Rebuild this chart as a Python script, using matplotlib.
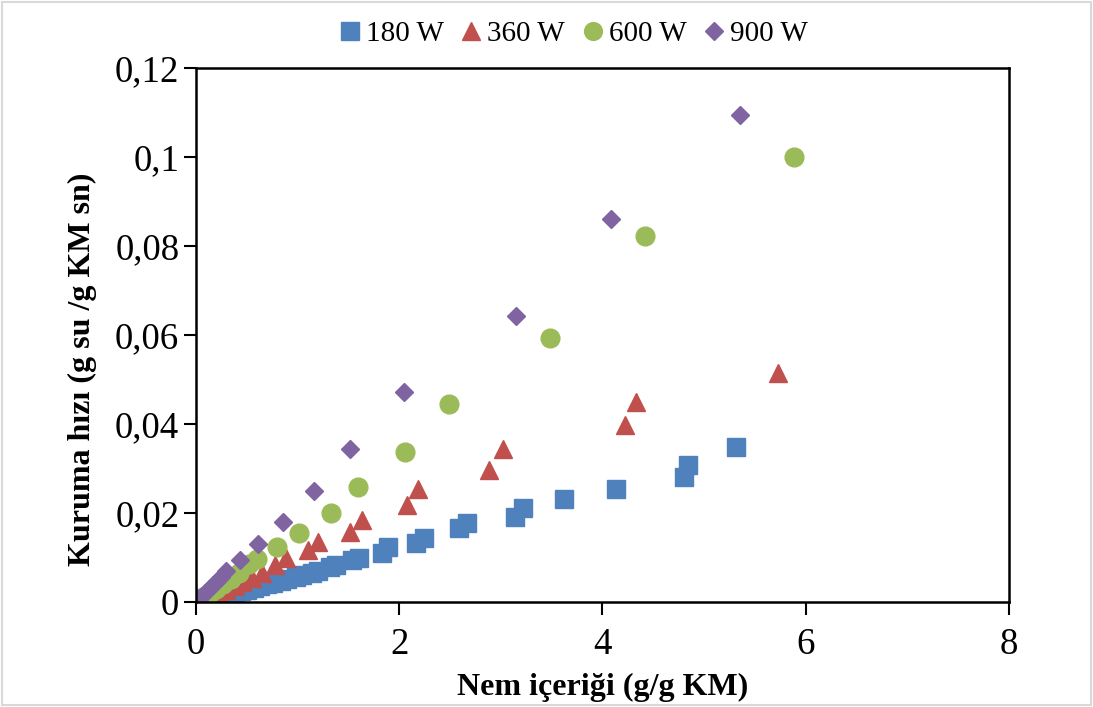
import matplotlib.pyplot as plt
from matplotlib.patches import Rectangle
from matplotlib.ticker import FuncFormatter

# Nem içeriği (g/g KM) vs kuruma hızı (g su / g KM sn)
x_180 = [5.31, 4.84, 4.80, 4.13, 3.62, 3.22, 3.14, 2.67, 2.59, 2.24, 2.17, 1.89, 1.83,
         1.60, 1.54, 1.38, 1.32, 1.20, 1.14, 1.04, 0.98, 0.90, 0.84, 0.76, 0.70, 0.63,
         0.57, 0.50, 0.44, 0.38, 0.32, 0.26, 0.20, 0.14, 0.08, 0.03, 0.00]
y_180 = [0.0348, 0.0308, 0.0281, 0.0253, 0.0231, 0.0211, 0.0191, 0.0177, 0.0167, 0.0144,
         0.0132, 0.0123, 0.0110, 0.0100, 0.0094, 0.0083, 0.0078, 0.0070, 0.0066, 0.0060,
         0.0056, 0.0051, 0.0047, 0.0043, 0.0040, 0.0036, 0.0032, 0.0028, 0.0025, 0.0021,
         0.0018, 0.0014, 0.0011, 0.0008, 0.0005, 0.0002, 0.0010]

x_360 = [5.73, 4.33, 4.22, 3.02, 2.88, 2.19, 2.08, 1.63, 1.52, 1.20, 1.10, 0.89, 0.78,
         0.65, 0.55, 0.45, 0.38, 0.30, 0.23, 0.16, 0.10, 0.05, 0.01]
y_360 = [0.0515, 0.0449, 0.0398, 0.0344, 0.0297, 0.0254, 0.0218, 0.0184, 0.0157, 0.0135,
         0.0117, 0.0099, 0.0083, 0.0065, 0.0055, 0.0044, 0.0036, 0.0028, 0.0021, 0.0014,
         0.0008, 0.0004, 0.0001]

x_600 = [5.89, 4.42, 3.48, 2.49, 2.06, 1.59, 1.33, 1.01, 0.80, 0.60, 0.52, 0.42, 0.34,
         0.27, 0.20, 0.14, 0.09, 0.05, 0.01]
y_600 = [0.1000, 0.0822, 0.0593, 0.0445, 0.0337, 0.0258, 0.0200, 0.0155, 0.0123, 0.0097,
         0.0085, 0.0066, 0.0052, 0.0040, 0.0029, 0.0020, 0.0013, 0.0007, 0.0001]

x_900 = [5.35, 4.08, 3.15, 2.05, 1.52, 1.16, 0.86, 0.61, 0.43, 0.30, 0.25, 0.21, 0.17,
         0.13, 0.09, 0.06, 0.03, 0.01]
y_900 = [0.1094, 0.0861, 0.0643, 0.0472, 0.0344, 0.0249, 0.0180, 0.0130, 0.0094, 0.0070,
         0.0057, 0.0047, 0.0038, 0.0029, 0.0020, 0.0013, 0.0007, 0.0002]

labels = ['180 W', '360 W', '600 W', '900 W']
x_ticks = [0, 2, 4, 6, 8]
y_ticks = [0, 0.02, 0.04, 0.06, 0.08, 0.10, 0.12]

plt.rcParams['font.family'] = ['Liberation Serif', 'DejaVu Serif']

fig = plt.figure(figsize=(10.93, 7.07), dpi=100)
ax = fig.add_axes([0.1793, 0.1485, 0.7437, 0.7553])

# light grey frame round the whole picture
fig.patches.append(Rectangle((0.002, 0.003), 0.996, 0.994, transform=fig.transFigure,
                             fill=False, edgecolor='#d9d9d9', linewidth=1.5))

ax.plot(x_180, y_180, 's', color='#4f81bd', markersize=13, label=labels[0])
ax.plot(x_360, y_360, '^', color='#c0504d', markersize=13, label=labels[1])
ax.plot(x_600, y_600, 'o', color='#9bbb59', markersize=13.5, label=labels[2])
ax.plot(x_900, y_900, 'D', color='#8064a2', markersize=9.5, label=labels[3])

ax.set_xlim(0, 8)
ax.set_ylim(0, 0.12)
ax.set_xticks(x_ticks)
ax.set_yticks(y_ticks)
ax.yaxis.set_major_formatter(FuncFormatter(lambda v, p: '0' if v == 0 else f'{v:g}'.replace('.', ',')))
ax.tick_params(direction='out', length=9, width=1.5, labelsize=26.5)
ax.tick_params(axis='x', pad=9)
ax.tick_params(axis='y', pad=3)
for s in ax.spines.values():
    s.set_linewidth(1.8)
    s.set_color('black')

ax.set_xlabel('Nem içeriği (g/g KM)', fontsize=23, fontweight='bold', labelpad=8)
ax.set_ylabel('Kuruma hızı (g su /g KM sn)', fontsize=23, fontweight='bold', labelpad=13)
ax.yaxis.label.set_y(0.435)  # label sits a little below the axis middle

fig.legend(loc='center', bbox_to_anchor=(0.523, 0.952), ncol=4, frameon=False,
           fontsize=21, handletextpad=0.05, columnspacing=0.45, handlelength=1.0,
           markerscale=0.95)

fig.savefig('out.png', dpi=100)
